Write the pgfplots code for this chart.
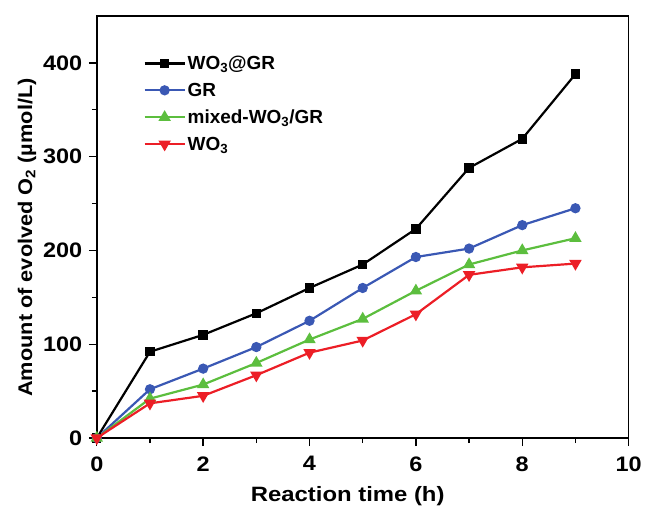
\documentclass[border=0pt]{standalone}
\usepackage{pgfplots}
\pgfplotsset{compat=1.18}
\usepackage{fontspec}
\setmainfont{Liberation Sans}
\newfontfamily\tickfont{Liberation Sans}[FakeStretch=1.12]
\newfontfamily\xlabfont{Liberation Sans}[FakeStretch=1.15]
\newfontfamily\ylabfont{Liberation Sans}[FakeStretch=1.1]
\definecolor{cblue}{RGB}{58,88,180}
\definecolor{cgreen}{RGB}{92,190,62}
\definecolor{cred}{RGB}{236,30,38}
\begin{document}
\begin{tikzpicture}
\begin{axis}[
    scale only axis,
    width=533pt,
    height=423pt,
    xmin=0, xmax=10,
    ymin=0, ymax=450,
    xtick={0,2,...,10},
    ytick={0,100,...,400},
    minor x tick num=1,
    minor y tick num=1,
    tick align=outside,
    xtick pos=bottom,
    ytick pos=left,
    major tick length=8pt,
    minor tick length=5pt,
    every tick/.style={black, line width=1.4pt},
    axis line style={line width=1.5pt},
    /pgf/number format/assume math mode=true,
    tick label style={font=\tickfont\fontsize{21}{23}\selectfont\bfseries},
    xticklabel style={yshift=-7pt},
    yticklabel style={xshift=-3pt},
    xlabel={Reaction time (h)},
    ylabel={Amount of evolved O\textsubscript{2} (µmol/L)},
    xlabel style={font=\xlabfont\fontsize{20.8}{24}\selectfont\bfseries, yshift=-8pt, xshift=-15pt},
    ylabel style={font=\ylabfont\fontsize{19.8}{22}\selectfont\bfseries, at={(ticklabel cs:0.475)}},
    legend style={draw=none, fill=none, at={(rel axis cs:0.082,0.915)}, anchor=north west,
        font=\fontsize{19}{21}\selectfont\bfseries, row sep=8pt},
    legend cell align=left,
    legend image code/.code={\draw[mark repeat=2,mark phase=2,#1] plot coordinates {(0pt,0pt) (20pt,0pt) (40pt,0pt)};},
    every axis plot/.append style={line width=2.2pt},
    clip=false,
]
\addplot[black, mark=square*, mark size=3.6pt, mark options={solid}] coordinates {
    (0,0) (1,92) (2,110) (3,133) (4,160) (5,185) (6,223) (7,288) (8,319) (9,388)
};
\addlegendentry{WO\textsubscript{3}@GR}
\addplot[cblue, mark=*, mark size=4pt] coordinates {
    (0,0) (1,52) (2,74) (3,97) (4,125) (5,160) (6,193) (7,202) (8,227) (9,245)
};
\addlegendentry{GR}
\addplot[cgreen, mark=triangle*, mark size=5pt] coordinates {
    (0,0) (1,42) (2,57) (3,80) (4,105) (5,127) (6,157) (7,185) (8,200) (9,213)
};
\addlegendentry{mixed-WO\textsubscript{3}/GR}
\addplot[cred, mark=triangle*, mark size=5pt, mark options={rotate=180}] coordinates {
    (0,0) (1,37) (2,45) (3,67) (4,91) (5,104) (6,132) (7,174) (8,182) (9,186)
};
\addlegendentry{WO\textsubscript{3}}
\path (rel axis cs:0,0) ++(-97pt,-64pt);
\path (rel axis cs:1,1) ++(15pt,16pt);
\end{axis}
\end{tikzpicture}
\end{document}
